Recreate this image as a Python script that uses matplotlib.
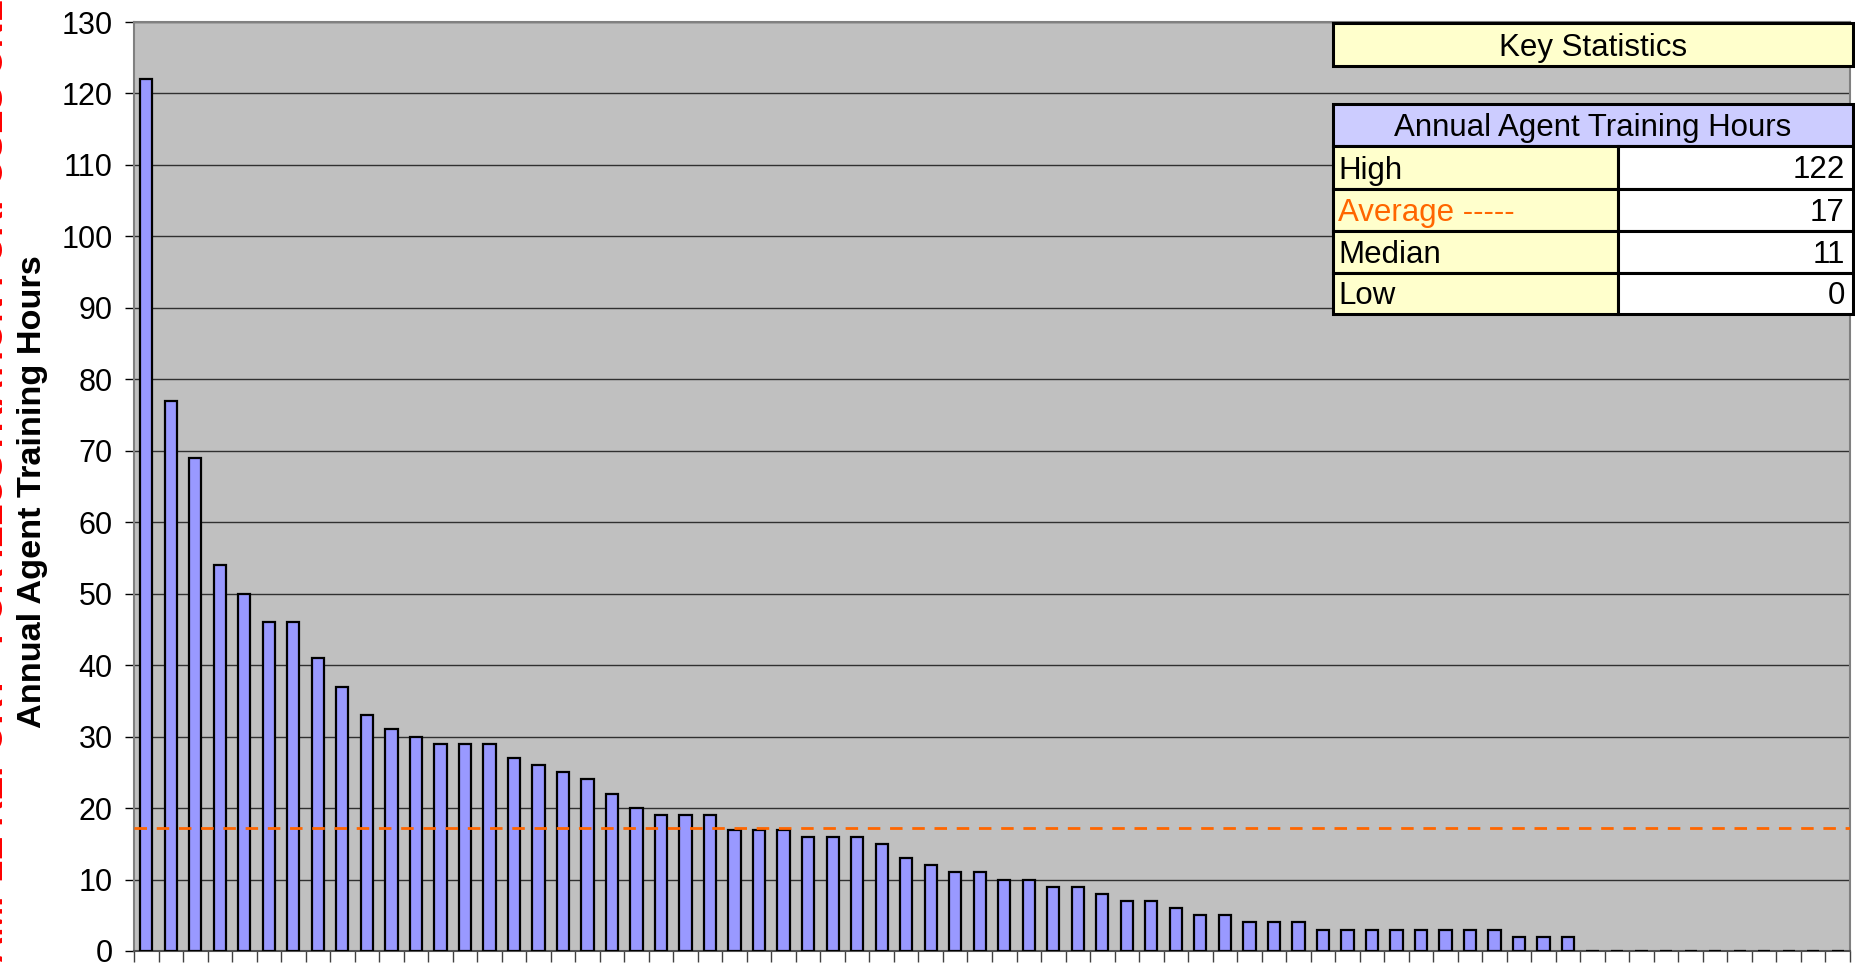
import matplotlib
matplotlib.use("Agg")
import matplotlib.pyplot as plt
import numpy as np

plt.rcParams['font.family'] = ['Liberation Sans', 'DejaVu Sans']
plt.rcParams['lines.scale_dashes'] = False

# ---- data ----
hours = [122, 77, 69, 54, 50, 46, 46, 41, 37, 33,
         31, 30, 29, 29, 29, 27, 26, 25, 24, 22,
         20, 19, 19, 19, 17, 17, 17, 16, 16, 16,
         15, 13, 12, 11, 11, 10, 10, 9, 9, 8,
         7, 7, 6, 5, 5, 4, 4, 4, 3, 3,
         3, 3, 3, 3, 3, 3, 2, 2, 2, 0,
         0, 0, 0, 0, 0, 0, 0, 0, 0, 0]
y_ticks = list(range(0, 131, 10))
stat_title = "Key Statistics"
stat_header = "Annual Agent Training Hours"
stat_labels = ["High", "Average -----", "Median", "Low"]
stat_values = ["122", "17", "11", "0"]
y_label = "Annual Agent Training Hours"
watermark = "SAMPLE REPORT - FOR ILLUSTRATION PURPOSES ONLY"

W, H = 1856, 964
fig = plt.figure(figsize=(W / 100, H / 100), dpi=100)
fig.patch.set_facecolor('white')
ax = fig.add_axes([134 / W, 1 - 951 / H, (1850 - 134) / W, (951 - 22) / H])
ax.set_facecolor('#C0C0C0')

n = len(hours)
x = np.arange(n)
ax.bar(x, hours, width=0.5, color='#9999FF', edgecolor='black', linewidth=1.6, zorder=3)

avg = float(np.mean(hours))
ax.axhline(avg, color='#FF6600', linewidth=2.0, dashes=(9, 7), zorder=4)

ax.set_xlim(-0.5, n - 0.5)
ax.set_ylim(0, 130)
ax.set_yticks(y_ticks)
ax.set_yticklabels([str(v) for v in y_ticks], fontsize=22)
ax.yaxis.grid(True, color='#303030', linewidth=1.0, zorder=1)
ax.set_axisbelow(True)
ax.tick_params(axis='y', direction='out', length=6.5, width=1, color='black', pad=9)

ax.set_xticks(np.arange(-0.5, n, 1.0))
ax.set_xticklabels([])
ax.tick_params(axis='x', direction='out', length=8, width=1, color='#404040')

for s in ['top', 'right', 'left']:
    ax.spines[s].set_color('#808080')
    ax.spines[s].set_linewidth(1.5)
ax.spines['bottom'].set_color('#505050')
ax.spines['bottom'].set_linewidth(1.5)

fig.text(33 / W, 1 - 492 / H, y_label, rotation=90, ha='center', va='center',
         fontsize=24.7, fontweight='bold')

# watermark red text, mostly clipped at the left edge
fig.text(3 / W, 0.5, watermark, rotation=90, rotation_mode='anchor',
         ha='center', va='baseline', fontsize=26, fontweight='bold', color='#FF0000')

# ---- Key statistics table (figure coordinates in pixels) ----
def px_rect(x0, y0, x1, y1, fc):
    r = plt.Rectangle((x0 / W, 1 - y1 / H), (x1 - x0) / W, (y1 - y0) / H,
                      transform=fig.transFigure, facecolor=fc, edgecolor='black',
                      linewidth=2.2, zorder=10)
    fig.add_artist(r)

def px_text(xp, yp, s, ha, color='black'):
    fig.text(xp / W, 1 - yp / H, s, ha=ha, va='center', fontsize=22.5,
             color=color, zorder=11)

L, M, R = 1333, 1618, 1853
px_rect(L, 23, R, 66, '#FFFFCC')
px_text((L + R) / 2, 48, stat_title, 'center')
px_rect(L, 104, R, 146, '#CCCCFF')
px_text((L + R) / 2, 128, stat_header, 'center')
row_edges = [146, 189, 231, 273, 314]
for i, (lab, val) in enumerate(zip(stat_labels, stat_values)):
    y0, y1 = row_edges[i], row_edges[i + 1]
    px_rect(L, y0, M, y1, '#FFFFCC')
    px_rect(M, y0, R, y1, 'white')
    col = '#FF6600' if i == 1 else 'black'
    px_text(L + 5, (y0 + y1) / 2 + 3, lab, 'left', col)
    px_text(R - 8, (y0 + y1) / 2 + 3, val, 'right')

fig.savefig('out.png', dpi=100)
